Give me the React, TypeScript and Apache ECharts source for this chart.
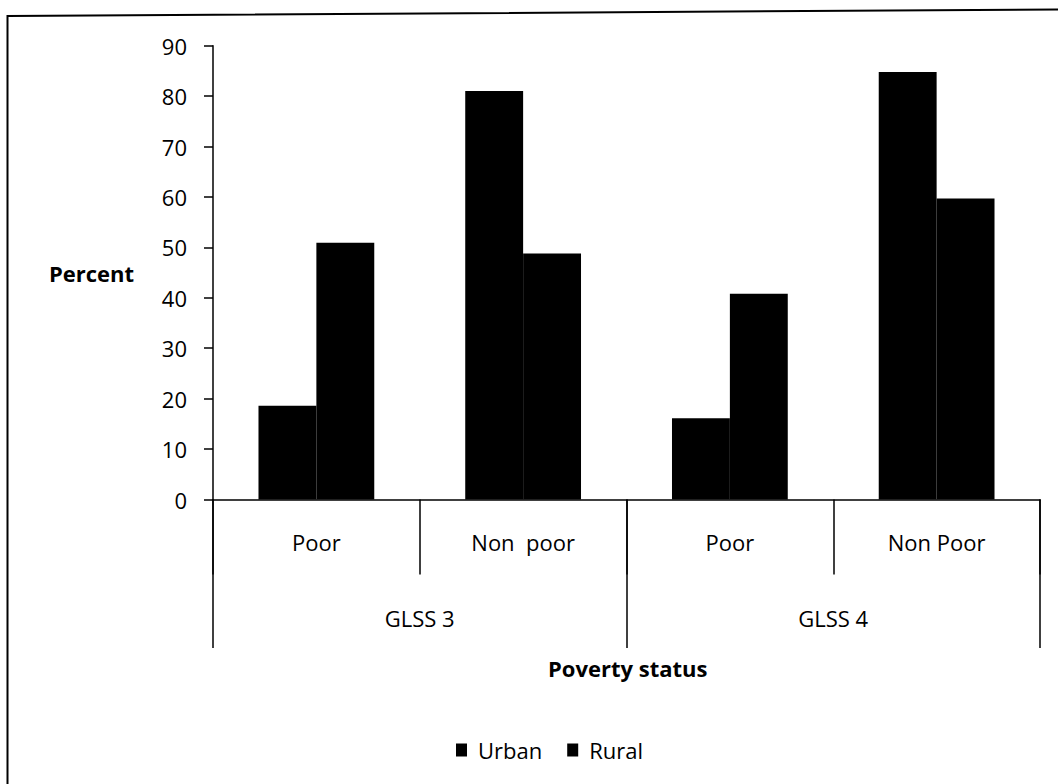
import React, { useEffect, useRef } from "react";
import * as echarts from "echarts";

const categories = ["Poor", "Non  poor", "Poor", "Non Poor"];
const surveys = ["GLSS 3", "GLSS 4"];
const urban = [18.6, 81.0, 16.1, 84.8];
const rural = [50.9, 48.8, 40.8, 59.7];
const yTicks = { min: 0, max: 90, interval: 10 };

const FONT = "'Open Sans', sans-serif";

export default function App() {
  const ref = useRef<HTMLDivElement>(null);
  useEffect(() => {
    document.body.style.margin = "0";
    const chart = echarts.init(ref.current!, null, { renderer: "svg" });
    chart.setOption({
      animation: false,
      backgroundColor: "#ffffff",
      textStyle: { fontFamily: FONT, color: "#000" },
      grid: { left: 213, right: 18, top: 45.7, bottom: 284.5, containLabel: false },
      legend: {
        left: 451,
        top: 734,
        itemWidth: 11,
        itemHeight: 13,
        itemGap: 25,
        icon: "rect",
        textStyle: { fontFamily: FONT, fontSize: 22, color: "#000", padding: [0, 0, 0, 6] },
        data: ["Urban", "Rural"],
      },
      xAxis: [
        {
          type: "category",
          data: categories,
          position: "bottom",
          axisLine: { show: true, lineStyle: { color: "#000", width: 1.5 } },
          axisTick: { show: true, length: 75, alignWithLabel: false, lineStyle: { color: "#000", width: 1.5 } },
          axisLabel: { fontFamily: FONT, fontSize: 22, color: "#000", margin: 31, lineHeight: 22, interval: 0 },
          splitLine: { show: false },
        },
        {
          type: "category",
          data: surveys,
          position: "bottom",
          gridIndex: 0,
          axisLine: { show: false },
          axisTick: { show: true, length: 148.5, alignWithLabel: false, lineStyle: { color: "#000", width: 1.5 } },
          axisLabel: { fontFamily: FONT, fontSize: 22, color: "#000", margin: 107, lineHeight: 22, interval: 0 },
          splitLine: { show: false },
        },
      ],
      yAxis: {
        type: "value",
        min: yTicks.min,
        max: yTicks.max,
        interval: yTicks.interval,
        axisLine: { show: true, lineStyle: { color: "#000", width: 1.5 } },
        axisTick: { show: true, length: 9, inside: false, lineStyle: { color: "#000", width: 1.5 } },
        axisLabel: { fontFamily: FONT, fontSize: 22, color: "#000", margin: 26 },
        splitLine: { show: false },
      },
      series: [
        {
          name: "Urban",
          type: "bar",
          xAxisIndex: 0,
          data: urban,
          itemStyle: { color: "#000" },
          barGap: "0%",
          barCategoryGap: "44%",
        },
        {
          name: "Rural",
          type: "bar",
          xAxisIndex: 0,
          data: rural,
          itemStyle: { color: "#000" },
          barGap: "0%",
          barCategoryGap: "44%",
        },
      ],
      graphic: [
        {
          type: "polyline",
          shape: { points: [[7.5, 790], [7.5, 16], [1060, 9.5]] },
          style: { stroke: "#000", lineWidth: 2, fill: null },
          silent: true,
        },
        {
          type: "text",
          left: 49,
          top: 262,
          style: { text: "Percent", font: `bold 22px ${FONT}`, fill: "#000" },
        },
        {
          type: "text",
          left: 548,
          top: 657,
          style: { text: "Poverty status", font: `bold 22px ${FONT}`, fill: "#000" },
        },
      ],
    });
    return () => chart.dispose();
  }, []);
  return <div ref={ref} style={{ position: "absolute", left: 0, top: 0, width: 1058, height: 784 }} />;
}
